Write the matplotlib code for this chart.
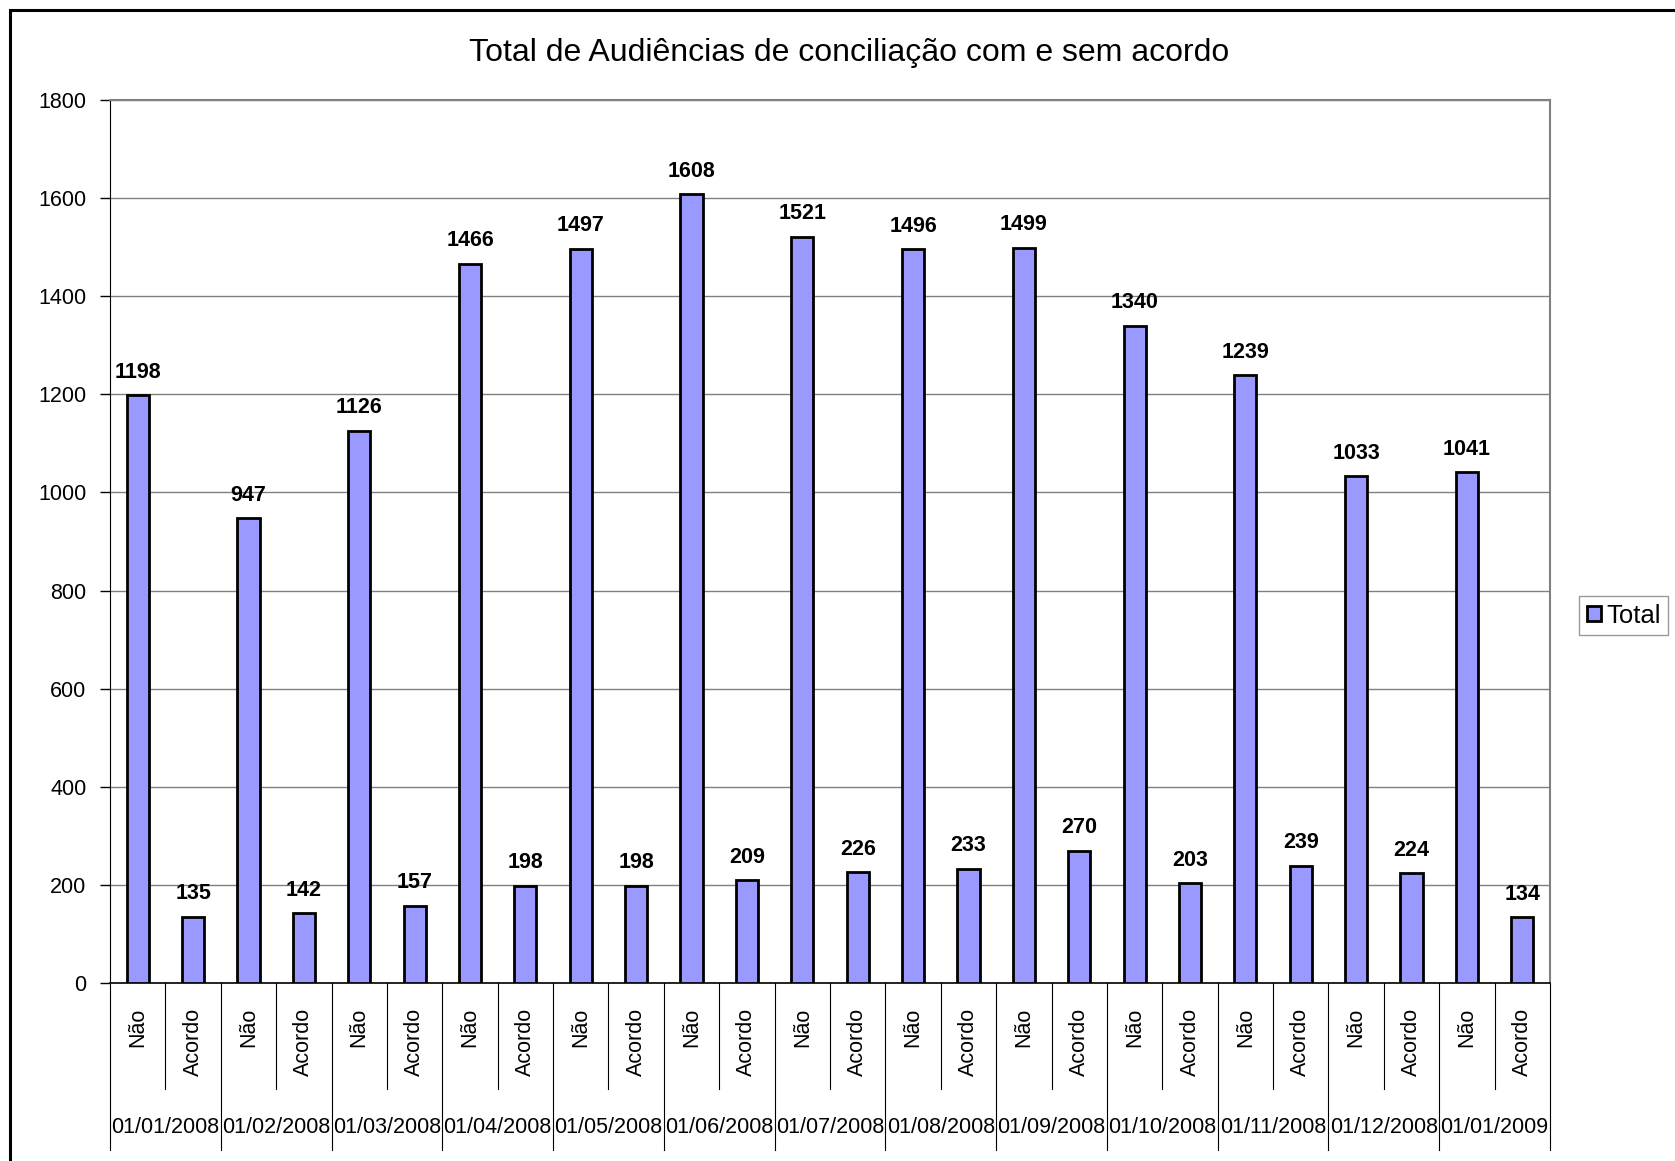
import numpy as np
import matplotlib.pyplot as plt
from matplotlib.patches import Rectangle
from matplotlib.transforms import blended_transform_factory

plt.rcParams['font.family'] = ['Liberation Sans', 'DejaVu Sans']

months = ['01/01/2008', '01/02/2008', '01/03/2008', '01/04/2008', '01/05/2008',
          '01/06/2008', '01/07/2008', '01/08/2008', '01/09/2008', '01/10/2008',
          '01/11/2008', '01/12/2008', '01/01/2009']
sub_labels = ['Não', 'Acordo']
nao = [1198, 947, 1126, 1466, 1497, 1608, 1521, 1496, 1499, 1340, 1239, 1033, 1041]
acordo = [135, 142, 157, 198, 198, 209, 226, 233, 270, 203, 239, 224, 134]

# interleave Não / Acordo per month
values = []
labels = []
for n, a in zip(nao, acordo):
    values += [n, a]
    labels += sub_labels
x = np.arange(len(values))

fig = plt.figure(figsize=(16.75, 11.61), dpi=100)
ax = fig.add_axes([110/1675, 1-983/1161, 1440/1675, 883/1161])

bars = ax.bar(x, values, width=0.4, color='#9999FF', edgecolor='black',
              linewidth=2, label='Total', zorder=3)
for xi, v in zip(x, values):
    ax.annotate(str(v), (xi, v), xytext=(0, 9), textcoords='offset points',
                ha='center', va='bottom', fontsize=15.5, fontweight='bold')

ax.set_xlim(-0.5, len(values) - 0.5)
ax.set_ylim(0, 1800)
ax.set_yticks(np.arange(0, 1801, 200))
ax.tick_params(axis='y', labelsize=15.5, length=7, width=1, pad=10)
ax.set_xticks([])
ax.yaxis.grid(True, color='#808080', linewidth=1, zorder=0)

ax.spines['left'].set_color('black')
ax.spines['bottom'].set_color('black')
ax.spines['bottom'].set_linewidth(1.2)
ax.spines['top'].set_color('#808080')
ax.spines['right'].set_color('#808080')
ax.spines['top'].set_linewidth(1.5)
ax.spines['right'].set_linewidth(1.5)

# two-level category axis
tr = blended_transform_factory(ax.transData, ax.transAxes)
for xi, lab in zip(x, labels):
    ax.text(xi, -0.028, lab, transform=tr, rotation=90, ha='center', va='top',
            fontsize=15.5)
for i in range(len(values) + 1):
    b = i - 0.5
    if i % 2 == 0:
        y_end = -0.189
    else:
        y_end = -0.12
    ax.plot([b, b], [0, y_end], transform=tr, color='black', linewidth=0.8,
            clip_on=False)
for i, m in enumerate(months):
    ax.text(2 * i + 0.5, -0.164, m, transform=tr, ha='center', va='center',
            fontsize=15.5)

# title centred on the whole chart area, not the plot area
fig.text(849/1675, 1-53/1161, 'Total de Audiências de conciliação com e sem acordo',
         ha='center', va='center', fontsize=23)

leg = fig.legend(handles=[bars], labels=['Total'], loc='upper left',
                 bbox_to_anchor=(1579/1675, 1-596/1161), fontsize=18.5,
                 frameon=True, fancybox=False, edgecolor='#808080',
                 handlelength=0.55, handleheight=0.55, handletextpad=0.2,
                 borderpad=0.3, borderaxespad=0)
leg.get_frame().set_linewidth(1)

# outer chart border
fig.patches.append(Rectangle((10/1675, -0.05), 1.1, 1.05 - 10/1161,
                             transform=fig.transFigure, fill=False,
                             edgecolor='black', linewidth=2.2))

fig.savefig('out.png', dpi=100)
